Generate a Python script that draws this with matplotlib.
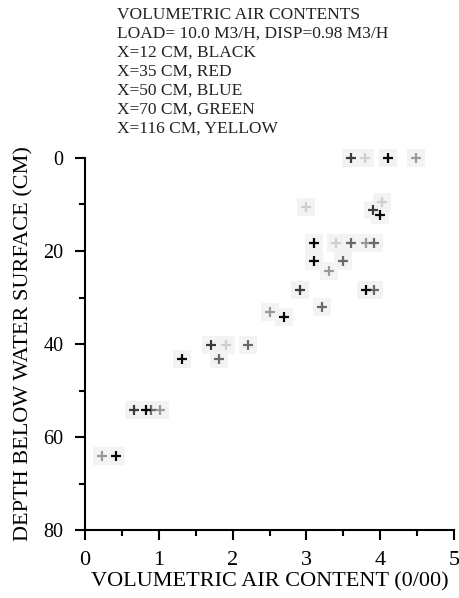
import matplotlib
matplotlib.use("Agg")
import matplotlib.pyplot as plt
from matplotlib.ticker import MultipleLocator

# Data (x = volumetric air content (0/00), y = depth (cm))
black_x = [4.10, 4.00, 3.10, 3.10, 3.81, 2.70, 1.31, 0.82, 0.42]
black_y = [0.0, 12.2, 18.3, 22.2, 28.3, 34.2, 43.3, 54.2, 64.0]
red_x = [3.60, 3.90, 2.91, 1.71, 0.66]
red_y = [0.0, 11.1, 28.3, 40.2, 54.2]
blue_x = [3.60, 3.92, 3.50, 3.92, 3.21, 2.21, 1.81, 0.90]
blue_y = [18.3, 18.3, 22.2, 28.3, 32.1, 40.2, 43.3, 54.2]
green_x = [4.49, 3.81, 3.31, 2.51, 1.01, 0.23]
green_y = [0.0, 18.3, 24.2, 33.2, 54.2, 64.0]
yellow_x = [3.80, 3.00, 4.02, 3.40, 1.91]
yellow_y = [0.0, 10.5, 9.5, 18.3, 40.2]

title_lines = [
    "VOLUMETRIC AIR CONTENTS",
    "LOAD= 10.0 M3/H, DISP=0.98 M3/H",
    "X=12 CM, BLACK",
    "X=35 CM, RED",
    "X=50 CM, BLUE",
    "X=70 CM, GREEN",
    "X=116 CM, YELLOW",
]

plt.rcParams['font.family'] = ['Liberation Serif', 'DejaVu Serif']

fig = plt.figure(figsize=(4.59, 5.98), dpi=100)
ax = fig.add_axes([85 / 459, 68 / 598, 369 / 459, 372 / 598])

series = [
    (yellow_x, yellow_y, '#cfcfcf'),
    (green_x, green_y, '#9a9a9a'),
    (blue_x, blue_y, '#6a6a6a'),
    (red_x, red_y, '#3c3c3c'),
    (black_x, black_y, '#0a0a0a'),
]
# faint background squares around markers (as in the scanned reference)
for xs, ys, c in series:
    ax.plot(xs, ys, linestyle='none', marker='s', markersize=13,
            color='#f3f3f3', markeredgewidth=0, zorder=1, clip_on=False)
for xs, ys, c in series:
    ax.plot(xs, ys, linestyle='none', marker='+', markersize=7,
            markeredgewidth=1.6, color=c, zorder=3, clip_on=False)

ax.set_xlim(0, 5)
ax.set_ylim(80, 0)
ax.spines['top'].set_visible(False)
ax.spines['right'].set_visible(False)
ax.spines['left'].set_linewidth(1.5)
ax.spines['bottom'].set_linewidth(1.5)
ax.xaxis.set_major_locator(MultipleLocator(1))
ax.xaxis.set_minor_locator(MultipleLocator(0.5))
ax.yaxis.set_major_locator(MultipleLocator(20))
ax.yaxis.set_minor_locator(MultipleLocator(10))
ax.tick_params(axis='both', which='major', direction='out', length=7, width=1.5,
               color='black')
ax.tick_params(axis='both', which='minor', direction='out', length=4, width=1.5)
ax.tick_params(axis='y', which='major', pad=8.5, labelsize=14.5)
ax.tick_params(axis='x', which='major', pad=8, labelsize=16)

ax.set_xlabel("VOLUMETRIC AIR CONTENT (0/00)", fontsize=16, labelpad=2)
ax.set_ylabel("DEPTH BELOW WATER SURFACE (CM)", fontsize=16, labelpad=7)

for i, line in enumerate(title_lines):
    fig.text(117 / 459, 1 - (15 + i * 19) / 598, line, fontsize=12.5,
             ha='left', va='center', color='#222222')

fig.savefig("out.png", dpi=100, facecolor='white')
